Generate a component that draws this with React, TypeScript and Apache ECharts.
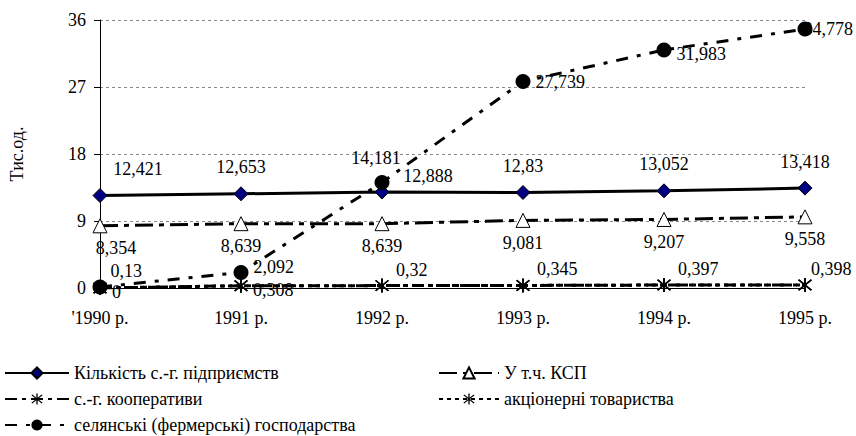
import React, { useEffect, useRef } from "react";
import * as echarts from "echarts";

const years = ["'1990 р.", "1991 р.", "1992 р.", "1993 р.", "1994 р.", "1995 р."];
const enterprises = [12.421, 12.653, 12.888, 12.83, 13.052, 13.418];
const ksp = [8.354, 8.639, 8.639, 9.081, 9.207, 9.558];
const coops = [0, 0.308, 0.32, 0.345, 0.397, 0.398];
const jointStock = [0, 0.308, 0.32, 0.345, 0.397, 0.398];
const farms = [0.13, 2.092, 14.181, 27.739, 31.983, 34.778];
const yTicks = [0, 9, 18, 27, 36];

const names = [
  "Кількість с.-г. підприємств",
  "У т.ч. КСП",
  "с.-г. кооперативи",
  "акціонерні товариства",
  "селянські (фермерські) господарства",
];

const FONT = "Liberation Serif";
const FS = 18;
const fmt = (v: number) => String(v).replace(".", ",");

const STAR =
  "path://M9,0 L11,0 L11,20 L9,20 Z M1.6,3.2 L3.0,1.8 L18.4,16.8 L17.0,18.2 Z M17.0,1.8 L18.4,3.2 L3.0,18.2 L1.6,16.8 Z";

type LabelCfg = { position?: string; offset?: number[]; distance?: number; show?: boolean };

function withLabels(values: number[], cfgs: LabelCfg[]) {
  return values.map((v, i) => ({
    value: v,
    label: cfgs[i] || {},
  }));
}

function legendAt(name: string, left: number, top: number, width: number) {
  return {
    orient: "horizontal",
    left,
    top,
    itemWidth: width,
    itemHeight: 14,
    itemGap: 0,
    padding: 0,
    textStyle: { color: "#000", fontFamily: FONT, fontSize: FS },
    data: [name],
  };
}

export default function App() {
  const ref = useRef<HTMLDivElement>(null);
  useEffect(() => {
    document.body.style.margin = "0";
    if (!ref.current) return;
    const chart = echarts.init(ref.current, undefined, { renderer: "svg" });
    const labelBase = {
      show: true,
      color: "#000",
      fontFamily: FONT,
      fontSize: FS,
      formatter: (p: any) => fmt(p.value),
    };
    chart.setOption({
      animation: false,
      textStyle: { fontFamily: FONT, color: "#000", fontSize: FS },
      grid: { left: 97, right: 51, top: 20, bottom: 148, containLabel: false },
      xAxis: {
        type: "category",
        data: years,
        boundaryGap: false,
        axisLine: { lineStyle: { color: "#000", width: 1 } },
        axisTick: { show: false },
        axisLabel: { color: "#000", fontFamily: FONT, fontSize: FS, margin: 21 },
        splitLine: { show: false },
      },
      yAxis: {
        type: "value",
        min: yTicks[0],
        max: yTicks[yTicks.length - 1],
        interval: 9,
        name: "Тис.од.",
        nameLocation: "middle",
        nameGap: 74,
        nameRotate: 90,
        nameTextStyle: { color: "#000", fontFamily: FONT, fontSize: FS },
        axisLine: { show: true, lineStyle: { color: "#000", width: 1 } },
        axisTick: { show: true, length: 6, lineStyle: { color: "#000" } },
        axisLabel: { color: "#000", fontFamily: FONT, fontSize: FS, margin: 14 },
        splitLine: { show: true, lineStyle: { color: "#888", type: [3, 3], width: 1.2 } },
      },
      legend: [
        legendAt(names[0], 4, 364, 64),
        legendAt(names[2], 4, 390, 64),
        legendAt(names[4], 4, 416, 64),
        legendAt(names[1], 438, 364, 60),
        legendAt(names[3], 438, 390, 60),
      ],
      series: [
        {
          name: names[1],
          type: "line",
          data: withLabels(ksp, [
            { offset: [16, 0] },
            {},
            {},
            {},
            {},
            {},
          ]),
          symbol: "triangle",
          symbolSize: 14,
          itemStyle: { color: "#fff", borderColor: "#000", borderWidth: 1 },
          lineStyle: { color: "#000", width: 3, type: [18, 6, 5, 6] },
          label: { ...labelBase, position: "bottom", distance: 6 },
          z: 3,
        },
        {
          name: names[3],
          type: "line",
          data: jointStock,
          symbol: STAR,
          symbolSize: 14,
          itemStyle: { color: "#000", borderWidth: 0 },
          lineStyle: { color: "#000", width: 3, type: [4, 4] },
          label: { show: false },
          z: 3,
        },
        {
          name: names[2],
          type: "line",
          data: withLabels(coops, [
            { position: "right", offset: [0, 4] },
            { position: "right", offset: [0, 4] },
            { position: "right", offset: [2, -16] },
            { position: "right", offset: [2, -16] },
            { position: "right", offset: [2, -16] },
            { position: "right", offset: [-6, -16] },
          ]),
          symbol: STAR,
          symbolSize: 14,
          itemStyle: { color: "#000", borderWidth: 0 },
          lineStyle: { color: "#000", width: 3, type: [12, 5, 4, 5] },
          label: { ...labelBase, position: "right", distance: 5 },
          z: 4,
        },
        {
          name: names[0],
          type: "line",
          data: withLabels(enterprises, [
            { offset: [38, 0] },
            {},
            { offset: [46, 10] },
            {},
            {},
            {},
          ]),
          symbol: "diamond",
          symbolSize: 14,
          itemStyle: { color: "#000080", borderColor: "#000", borderWidth: 1 },
          lineStyle: { color: "#000", width: 3, type: "solid" },
          label: { ...labelBase, position: "top", distance: 10 },
          z: 5,
        },
        {
          name: names[4],
          type: "line",
          data: withLabels(farms, [
            { position: "right", offset: [-2, -16] },
            { position: "right", offset: [0, -5] },
            { position: "top", offset: [-6, 0], distance: 8 },
            { position: "right", offset: [0, 1] },
            { position: "right", offset: [0, 4] },
            { position: "right", offset: [-14, 0] },
          ]),
          symbol: "circle",
          symbolSize: 15,
          itemStyle: { color: "#000", borderColor: "#000", borderWidth: 0 },
          lineStyle: { color: "#000", width: 3, type: [12, 9, 4, 9] },
          label: { ...labelBase, position: "right", distance: 5 },
          z: 6,
        },
      ],
    });
    return () => chart.dispose();
  }, []);
  return <div ref={ref} style={{ width: 856, height: 436 }} />;
}
